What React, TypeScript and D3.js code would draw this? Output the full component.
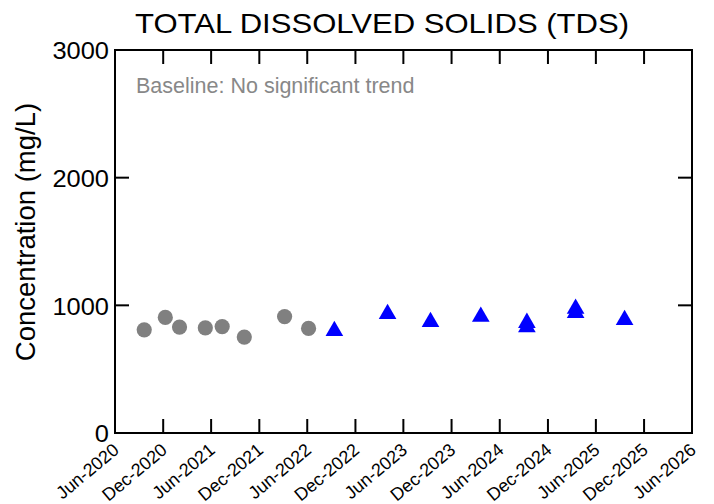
import React from "react";
import * as d3 from "d3";

const title = "TOTAL DISSOLVED SOLIDS (TDS)";
const yLabel = "Concentration (mg/L)";
const note = "Baseline: No significant trend";

const xTickLabels = [
  "Jun-2020", "Dec-2020", "Jun-2021", "Dec-2021", "Jun-2022", "Dec-2022", "Jun-2023",
  "Dec-2023", "Jun-2024", "Dec-2024", "Jun-2025", "Dec-2025", "Jun-2026",
];
const yTicks = [0, 1000, 2000, 3000];

const baselineDates = [
  "2020-09-20", "2020-12-09", "2021-02-01", "2021-05-10",
  "2021-07-13", "2021-10-05", "2022-03-07", "2022-06-06",
];
const baselineValues = [808, 905, 830, 824, 834, 751, 912, 819];

const recentDates = [
  "2022-09-12", "2023-04-02", "2023-09-12", "2024-03-21", "2024-09-12",
  "2024-09-12", "2025-03-16", "2025-03-16", "2025-09-18",
];
const recentValues = [811, 945, 881, 923, 875, 840, 985, 953, 897];

const W = 714;
const H = 504;
const M = { left: 115, right: 692, top: 50, bottom: 433 };

export default function App() {
  const parseTick = d3.timeParse("%b-%Y");
  const parseDate = d3.timeParse("%Y-%m-%d");
  const tickDates = xTickLabels.map((s) => parseTick(s) as Date);
  const x = d3
    .scaleTime()
    .domain([tickDates[0], tickDates[tickDates.length - 1]])
    .range([M.left, M.right]);
  const y = d3.scaleLinear().domain([0, 3000]).range([M.bottom, M.top]);
  const tickLen = 14;
  const tri = d3.symbol().type(d3.symbolTriangle).size(135)();
  const font = "'Liberation Sans', Arial, sans-serif";

  return (
    <svg width={W} height={H} style={{ position: "absolute", left: 0, top: 0, background: "#fff" }}>
      <rect x={0} y={0} width={W} height={H} fill="#fff" />
      <text x={382} y={33} textAnchor="middle" fontFamily={font} fontSize={28.5}
        textLength={494} lengthAdjust="spacingAndGlyphs" fill="#000">{title}</text>

      <text x={136} y={93} fontFamily={font} fontSize={21.5} fill="#888">{note}</text>

      {baselineDates.map((d, i) => (
        <circle key={"b" + i} cx={x(parseDate(d) as Date)} cy={y(baselineValues[i])} r={7.6} fill="#808080" />
      ))}
      {recentDates.map((d, i) => (
        <path key={"r" + i} d={tri as string}
          transform={`translate(${x(parseDate(d) as Date)},${y(recentValues[i]) + 1.5})`} fill="#0000ff" />
      ))}

      {tickDates.map((d, i) => (
        <g key={"xt" + i}>
          <line x1={x(d)} x2={x(d)} y1={M.bottom} y2={M.bottom - tickLen} stroke="#000" strokeWidth={2} />
          <line x1={x(d)} x2={x(d)} y1={M.top} y2={M.top + tickLen} stroke="#000" strokeWidth={2} />
          <text transform={`translate(${x(d) + 1},447) rotate(-40)`} textAnchor="end" dy="0.35em"
            fontFamily={font} fontSize={18} fill="#000">{xTickLabels[i]}</text>
        </g>
      ))}
      {yTicks.map((v, i) => (
        <g key={"yt" + i}>
          <line x1={M.left} x2={M.left + tickLen} y1={y(v)} y2={y(v)} stroke="#000" strokeWidth={2} />
          <line x1={M.right} x2={M.right - tickLen} y1={y(v)} y2={y(v)} stroke="#000" strokeWidth={2} />
          <text transform={`translate(109,${y(v) + 1}) scale(1.06,1)`} textAnchor="end" dy="0.35em"
            fontFamily={font} fontSize={24} fill="#000">{v}</text>
        </g>
      ))}
      <rect x={M.left} y={M.top} width={M.right - M.left} height={M.bottom - M.top}
        fill="none" stroke="#000" strokeWidth={2} />

      <text transform={`translate(35,232) rotate(-90)`} textAnchor="middle"
        fontFamily={font} fontSize={27.5} fill="#000">{yLabel}</text>
    </svg>
  );
}
